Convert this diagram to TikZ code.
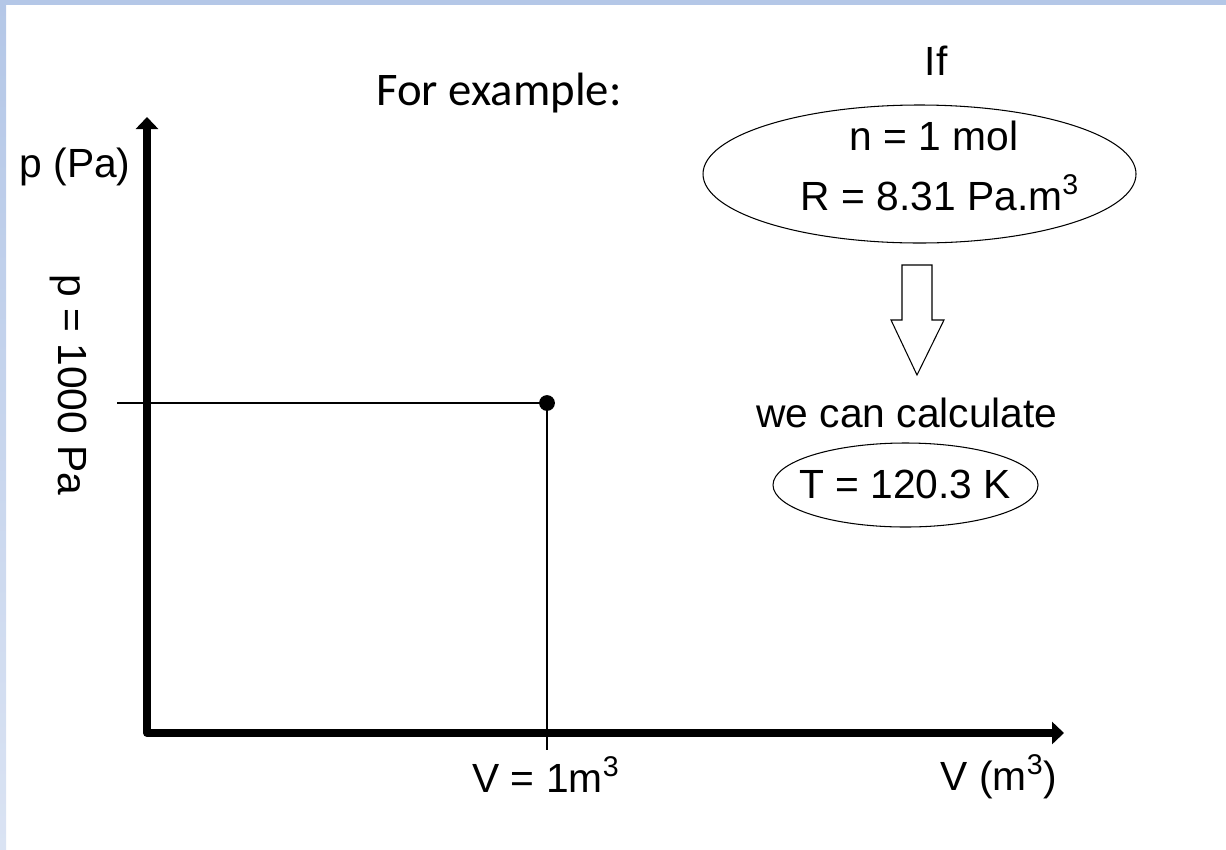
\documentclass[tikz,border=0pt]{standalone}
\usepackage{fontspec}
\setmainfont{Liberation Sans}
\newfontfamily\calib{Carlito}
\usepackage{xcolor}
\usetikzlibrary{arrows.meta,calc}
\definecolor{slideblue}{HTML}{B4C7E7}
\definecolor{slidepale}{HTML}{DAE3F3}
\tikzset{
  lbl/.style={font=\fontsize{23.2pt}{28pt}\selectfont, inner sep=0pt, anchor=base},
  axis/.style={line width=4.5pt, line join=round},
  guide/.style={line width=1pt},
  oval/.style={line width=0.6pt}
}

\begin{document}
\begin{tikzpicture}[x=0.02cm, y=-0.02cm]
\useasboundingbox (0,0) rectangle (1226,849);
% slide edge
\fill[slideblue] (0,0) rectangle (1226,5);
\shade[top color=slideblue, bottom color=slidepale] (0,0) rectangle (6,849);

% axes
\coordinate (O) at (147,733);
\coordinate (ytop) at (147,117);
\coordinate (xend) at (1064,733);
\draw[axis, {Triangle[length=0.24cm,width=0.44cm]}-{Triangle[length=0.24cm,width=0.44cm]}] (ytop) -- (O) -- (xend);

% state point
\coordinate (pleft) at (117,403);
\coordinate (vtick) at (547,750);
\node[circle, fill, inner sep=0pt, minimum size=9pt] (pt) at (547,403) {};
\draw[guide] (pleft) -- (pt.center) -- (vtick);

% axis labels
\node[lbl] (plab) at (75,177) {p (Pa)};
\node[lbl] (vlab) at (999,790) {V (m\textsuperscript{3})};
\node[lbl] (v1) at (546,792) {V = 1m\textsuperscript{3}};
\node[font=\fontsize{23.2pt}{28pt}\selectfont, inner sep=0pt, rotate=-90] (p1) at (69,385) {p = 1000 Pa};

% example
\node[lbl, font=\calib\fontsize{26.6pt}{32pt}\selectfont] (ex) at (499,105) {For example:};
\node[lbl] (if) at (936,75) {If};
\draw[oval] (919.5,174) ellipse (216.5 and 69);
\node[lbl] (n) at (934,150) {n = 1 mol};
\node[lbl] (R) at (940,210) {R = 8.31 Pa.m\textsuperscript{3}};

% block arrow
\draw[oval, line join=miter] (902,265) -- (932,265) -- (932,320) -- (944,320) -- (917,375) -- (891,320) -- (902,320) -- cycle;

\node[lbl] (calc) at (907,427) {we can calculate};
\draw[oval] (905.5,485) ellipse (132.5 and 42);
\node[lbl] (T) at (905,498) {T = 120.3 K};
\end{tikzpicture}
\end{document}
